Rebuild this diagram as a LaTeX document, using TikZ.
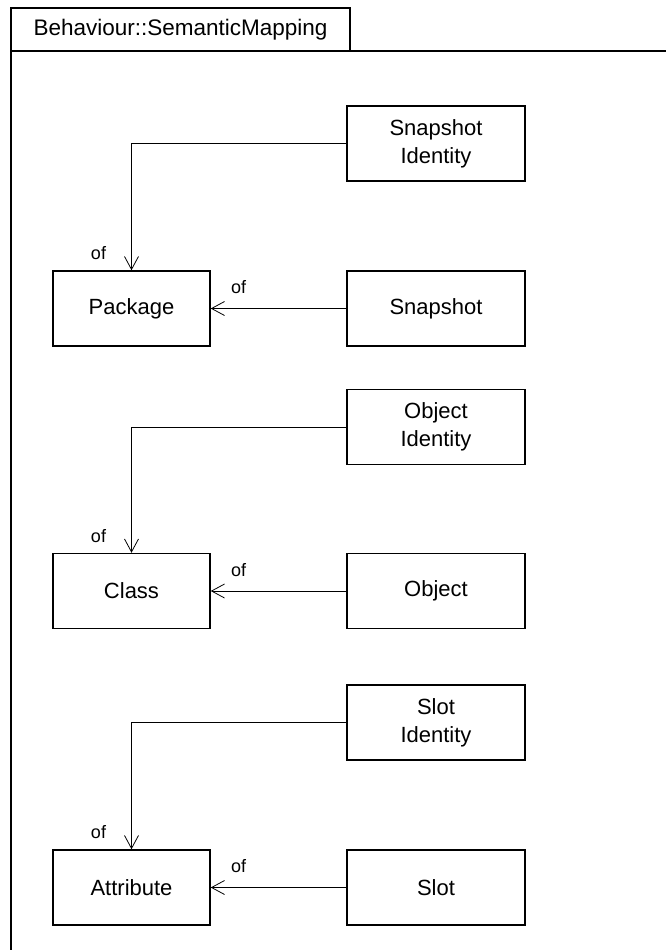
\documentclass[tikz,border=0pt]{standalone}
\usepackage{fontspec}
\setmainfont{Liberation Sans}
\usetikzlibrary{arrows.meta}
\begin{document}
\begin{tikzpicture}[x=1pt,y=-1pt,
  box/.style={draw, line width=1.4pt, inner sep=0pt, align=center,
    font=\fontsize{22}{28}\selectfont},
  rbox/.style={box, minimum width=178pt, minimum height=75pt},
  lbox/.style={box, minimum width=157pt, minimum height=75pt},
  conn/.style={line width=0.8pt, -{Straight Barb[length=13pt,width=14pt,line width=0.8pt]}},
  lbl/.style={font=\fontsize{18}{20}\selectfont, inner sep=0pt},
  frame/.style={line width=1.2pt}]
\useasboundingbox (0,0) rectangle (666,950);
% frame
\draw[frame] (11,950) -- (11,8) -- (350,8) -- (350,51);
\draw[frame] (11,51) -- (666,51);
\node[font=\fontsize{22.5}{26}\selectfont, inner sep=0pt] (title) at (180.5,30) {Behaviour::SemanticMapping};
% row 1
\node[rbox] (sid) at (436,143.5) {Snapshot\\Identity};
\node[rbox] (snap) at (436,308.5) {Snapshot};
\node[lbox] (pkg) at (131.5,308.5) {Package};
% row 2
\node[rbox] (oid) at (436,427) {Object\\Identity};
\node[rbox] (obj) at (436,591) {Object};
\node[lbox] (cls) at (131.5,591) {Class};
% row 3
\node[rbox] (slid) at (436,722.5) {Slot\\Identity};
\node[rbox] (slot) at (436,887.5) {Slot};
\node[lbox] (attr) at (131.5,887.5) {Attribute};
% connectors
\draw[conn] (sid.west) -| (pkg.north);
\draw[conn] (snap.west) -- (pkg.east);
\draw[conn] (oid.west) -| (cls.north);
\draw[conn] (obj.west) -- (cls.east);
\draw[conn] (slid.west) -| (attr.north);
\draw[conn] (slot.west) -- (attr.east);
% labels
\foreach \n in {pkg,cls,attr}{
  \node[lbl] (\n-ofv) at ([xshift=-33pt,yshift=17pt]\n.north) {of};
  \node[lbl] (\n-ofh) at ([xshift=28pt,yshift=21pt]\n.east) {of};
}
\end{tikzpicture}
\end{document}
